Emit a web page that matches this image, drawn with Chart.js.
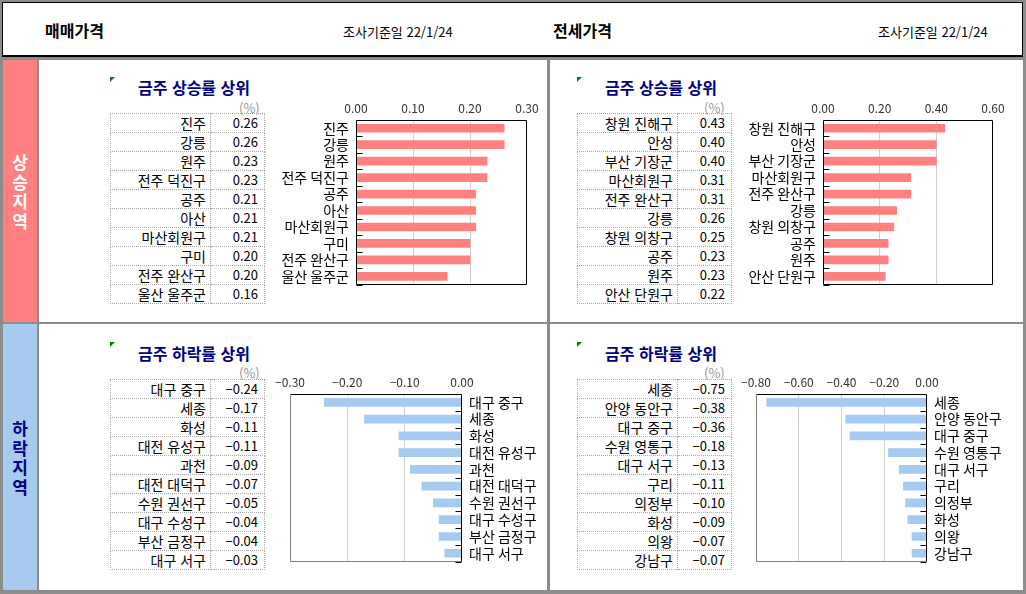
<!DOCTYPE html>
<html lang="ko">
<head>
<meta charset="utf-8">
<script src="https://cdn.jsdelivr.net/npm/chart.js@4"></script>
<style>
  body{ margin:0; background:#fff; font-family:"Noto Sans CJK KR","Noto Sans",sans-serif; }
  #page{ position:relative; width:1026px; height:594px; background:#8c8c8c; overflow:hidden; }
  .box{ position:absolute; background:#fff; }
  .abs{ position:absolute; white-space:nowrap; }
  .head{ font-size:16px; font-weight:bold; line-height:20px; }
  .date{ font-size:13px; line-height:16px; }
  .side{ position:absolute; left:3px; width:34px; display:flex; align-items:center; justify-content:center;
         font-size:17px; font-weight:bold; line-height:19.5px; text-align:center; }
  .title{ font-size:16px; font-weight:bold; color:#000080; line-height:20px; }
  .pct{ font-size:13px; color:#999; line-height:14px; }
  .tri{ position:absolute; width:0; height:0; border-top:5px solid #008000; border-right:5px solid transparent; }
  table.t{ position:absolute; border-collapse:collapse; }
  table.t td{ border:1px dotted #a8a8a8; height:18px; padding:0; text-align:right; line-height:18px; }
  table.t td.n{ width:95px; padding-right:4px; font-size:14px; }
  table.t td.v{ width:47px; padding-right:6px; font-size:13px; }
  canvas{ position:absolute; }
</style>
</head>
<body>
<div id="page">
  <div class="box" style="left:2px;top:2px;width:1019px;height:52px;border:1px solid #000;border-bottom-width:2px;"></div>
  <div class="abs head" style="left:45px;top:20px;">매매가격</div>
  <div class="abs date" style="left:343px;top:24px;">조사기준일 22/1/24</div>
  <div class="abs head" style="left:553px;top:20px;">전세가격</div>
  <div class="abs date" style="left:878px;top:24px;">조사기준일 22/1/24</div>

  <div class="side" style="top:60px;height:262px;background:#ff8080;color:#fff;">상<br>승<br>지<br>역</div>
  <div class="side" style="top:324px;height:266px;background:#a6caf0;color:#000080;">하<br>락<br>지<br>역</div>

  <div class="box" style="left:39px;top:60px;width:508px;height:262px;"></div>
  <div class="box" style="left:550px;top:60px;width:473px;height:262px;"></div>
  <div class="box" style="left:39px;top:324px;width:508px;height:266px;"></div>
  <div class="box" style="left:550px;top:324px;width:473px;height:266px;"></div>

  <div class="tri" style="left:110px;top:77px;"></div>
  <div class="abs title" style="left:138px;top:77px;">금주 상승률 상위</div>
  <div class="abs pct" style="left:239px;top:101px;">(%)</div>
  <table class="t" id="t1" style="left:110px;top:113px;"></table>
  <canvas id="c1" width="275" height="200" style="left:270px;top:100px;"></canvas>

  <div class="tri" style="left:577px;top:77px;"></div>
  <div class="abs title" style="left:605px;top:77px;">금주 상승률 상위</div>
  <div class="abs pct" style="left:704px;top:101px;">(%)</div>
  <table class="t" id="t2" style="left:577px;top:113px;"></table>
  <canvas id="c2" width="280" height="200" style="left:735px;top:100px;"></canvas>

  <div class="tri" style="left:110px;top:342px;"></div>
  <div class="abs title" style="left:138px;top:343px;">금주 하락률 상위</div>
  <div class="abs pct" style="left:239px;top:366px;">(%)</div>
  <table class="t" id="t3" style="left:110px;top:379px;"></table>
  <canvas id="c3" width="277" height="205" style="left:268px;top:372px;"></canvas>

  <div class="tri" style="left:577px;top:342px;"></div>
  <div class="abs title" style="left:605px;top:343px;">금주 하락률 상위</div>
  <div class="abs pct" style="left:704px;top:366px;">(%)</div>
  <table class="t" id="t4" style="left:577px;top:379px;"></table>
  <canvas id="c4" width="283" height="205" style="left:732px;top:372px;"></canvas>
</div>

<script>
const saleUpNames = ["진주","강릉","원주","전주 덕진구","공주","아산","마산회원구","구미","전주 완산구","울산 울주군"]
const saleUpValues = [0.26,0.26,0.23,0.23,0.21,0.21,0.21,0.20,0.20,0.16]

const jeonseUpNames = ["창원 진해구","안성","부산 기장군","마산회원구","전주 완산구","강릉","창원 의창구","공주","원주","안산 단원구"]
const jeonseUpValues = [0.43,0.40,0.40,0.31,0.31,0.26,0.25,0.23,0.23,0.22]

const saleDownNames = ["대구 중구","세종","화성","대전 유성구","과천","대전 대덕구","수원 권선구","대구 수성구","부산 금정구","대구 서구"]
const saleDownValues = [-0.24,-0.17,-0.11,-0.11,-0.09,-0.07,-0.05,-0.04,-0.04,-0.03]

const jeonseDownNames = ["세종","안양 동안구","대구 중구","수원 영통구","대구 서구","구리","의정부","화성","의왕","강남구"]
const jeonseDownValues = [-0.75,-0.38,-0.36,-0.18,-0.13,-0.11,-0.10,-0.09,-0.07,-0.07]

const RED = "#ff8080"
const BLUE = "#a6caf0"

Chart.defaults.font.family = '"Noto Sans CJK KR","Noto Sans",sans-serif'

function fmt(v){
    return v.toFixed(2).replace("-","\u2212")
}

function fillTable(id, names, values){
    const t = document.getElementById(id)
    names.forEach((n,i)=>{
        const tr = document.createElement("tr")
        tr.innerHTML = `<td class="n">${n}</td><td class="v">${fmt(values[i])}</td>`
        t.appendChild(tr)
    })
}

// frame round the plot area plus short inward ticks between categories
const frameTicks = {
    id:"frameTicks",
    afterDatasetsDraw(chart, args, o){
        const {ctx, chartArea:a} = chart
        const y = chart.scales.y
        const L = Math.round(a.left)+0.5, R = Math.round(a.right)-0.5
        const T = Math.round(a.top)+0.5, B = Math.round(a.bottom)-0.5
        ctx.save()
        ctx.lineWidth = 1
        const line = (x1,y1,x2,y2,c)=>{
            ctx.strokeStyle = c
            ctx.beginPath(); ctx.moveTo(x1,y1); ctx.lineTo(x2,y2); ctx.stroke()
        }
        const soft = o.soft || "#000"
        line(L,T,R,T,"#000")
        line(L,B,R,B,soft)
        line(L,T,L,B,o.side === "left" ? "#000" : soft)
        line(R,T,R,B,o.side === "right" ? "#000" : soft)
        const n = y.ticks.length
        for(let i=1;i<=n;i++){
            const py = Math.round(y.getPixelForValue(i-0.5))+0.5
            if(o.side === "left") line(L,py,L+6,py,"#000")
            else line(R-6,py,R,py,"#000")
        }
        ctx.restore()
    }
}

function makeChart(id, names, values, cfg){
    new Chart(document.getElementById(id),{
        type:"bar",
        data:{
            labels:names,
            datasets:[{
                data:values,
                backgroundColor:cfg.color,
                borderWidth:0,
                barThickness:8
            }]
        },
        options:{
            indexAxis:"y",
            responsive:false,
            animation:false,
            devicePixelRatio:1,
            layout:{ padding:cfg.padding },
            plugins:{
                legend:{display:false},
                tooltip:{enabled:false},
                frameTicks:{ side:cfg.side, soft:cfg.soft }
            },
            scales:{
                x:{
                    position:"top",
                    min:cfg.min,
                    max:cfg.max,
                    ticks:{
                        stepSize:cfg.step,
                        autoSkip:false,
                        maxRotation:0,
                        padding:4,
                        color:"#333",
                        font:{size:12},
                        callback:v=>fmt(v)
                    },
                    grid:{
                        drawTicks:false,
                        color:c=>{
                            const v = c.tick ? c.tick.value : 0
                            return (Math.abs(v-cfg.min)<1e-9 || Math.abs(v-cfg.max)<1e-9) ? "rgba(0,0,0,0)" : "#d0d0d0"
                        }
                    },
                    border:{display:false},
                    afterFit:s=>{ s.height = cfg.top }
                },
                y:{
                    position:cfg.side,
                    ticks:{ color:"#000", font:{size:14}, padding:7, autoSkip:false },
                    grid:{display:false, drawTicks:false},
                    border:{display:false},
                    afterFit:s=>{ s.width = cfg.axisW }
                }
            }
        },
        plugins:[frameTicks]
    })
}

fillTable("t1", saleUpNames, saleUpValues)
fillTable("t2", jeonseUpNames, jeonseUpValues)
fillTable("t3", saleDownNames, saleDownValues)
fillTable("t4", jeonseDownNames, jeonseDownValues)

makeChart("c1", saleUpNames, saleUpValues,
    {color:RED, side:"left", min:0, max:0.3, step:0.1, top:20, axisW:86, padding:{left:0,right:18,top:0,bottom:6}})
makeChart("c2", jeonseUpNames, jeonseUpValues,
    {color:RED, side:"left", min:0, max:0.6, step:0.2, top:20, axisW:88, padding:{left:0,right:22,top:0,bottom:6}})
makeChart("c3", saleDownNames, saleDownValues,
    {color:BLUE, side:"right", soft:"#808080", min:-0.3, max:0, step:0.1, top:22, axisW:83, padding:{left:22,right:0,top:0,bottom:8}})
makeChart("c4", jeonseDownNames, jeonseDownValues,
    {color:BLUE, side:"right", soft:"#808080", min:-0.8, max:0, step:0.2, top:22, axisW:88, padding:{left:24,right:0,top:0,bottom:8}})
</script>
</body>
</html>
